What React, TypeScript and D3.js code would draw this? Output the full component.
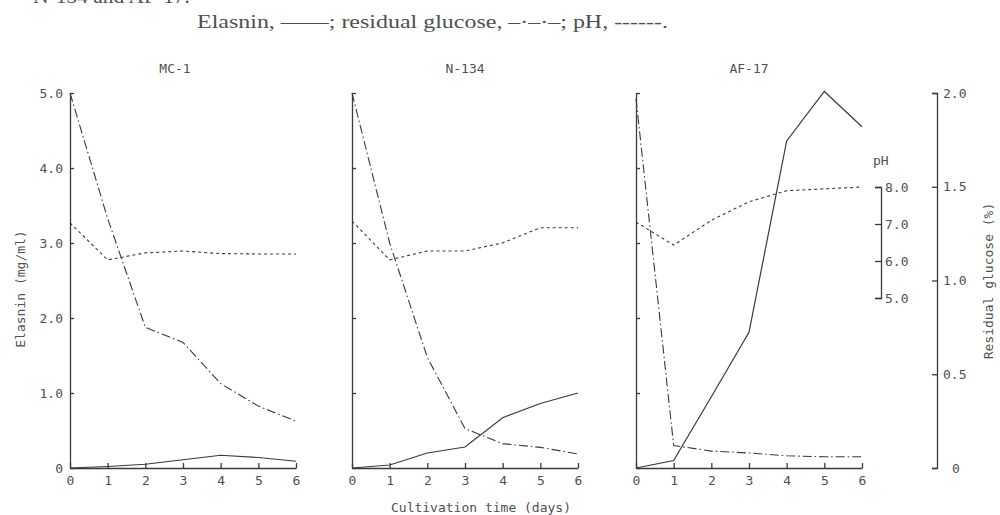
import React, { useEffect, useRef } from 'react';
import * as d3 from 'd3';

// cultivation days on the x axis
const days = [0, 1, 2, 3, 4, 5, 6];
const strains = ['MC-1', 'N-134', 'AF-17'];

// elasnin (mg/ml)
const elasninMC1 = [0, 0.02, 0.05, 0.11, 0.17, 0.14, 0.09];
const elasninN134 = [0, 0.04, 0.2, 0.28, 0.67, 0.86, 1.0];
const elasninAF17 = [0, 0.1, 0.95, 1.81, 4.36, 5.02, 4.55];

// residual glucose (%)
const glucoseMC1 = [2.0, 1.33, 0.75, 0.67, 0.45, 0.33, 0.25];
const glucoseN134 = [2.0, 1.2, 0.59, 0.21, 0.13, 0.11, 0.075];
const glucoseAF17 = [1.97, 0.12, 0.09, 0.08, 0.065, 0.06, 0.06];

// pH
const phMC1 = [7.03, 6.03, 6.22, 6.27, 6.2, 6.19, 6.19];
const phN134 = [7.08, 6.03, 6.27, 6.27, 6.49, 6.9, 6.9];
const phAF17 = [7.05, 6.43, 7.1, 7.6, 7.9, 7.95, 8.0];

const elasninTicks = [0, 1, 2, 3, 4, 5];
const glucoseTicks = [0, 0.5, 1.0, 1.5, 2.0];
const phTicks = [5, 6, 7, 8];

const caption = 'Elasnin, \u2014\u2014; residual glucose, \u2013\u00b7\u2013\u00b7\u2013; pH, ------.';
const topLine = 'N-134 and AF-17.';

const W = 1000;
const H = 515;
const MONO = '"DejaVu Sans Mono", monospace';
const INK = '#3a3a3a';
const TXT = '#505050';

export default function App() {
  const svgRef = useRef<SVGSVGElement | null>(null);

  useEffect(() => {
    const svg = d3.select(svgRef.current);
    svg.selectAll('*').remove();

    const panels = [
      { name: strains[0], x0: 70, el: elasninMC1, gl: glucoseMC1, ph: phMC1 },
      { name: strains[1], x0: 352, el: elasninN134, gl: glucoseN134, ph: phN134 },
      { name: strains[2], x0: 636, el: elasninAF17, gl: glucoseAF17, ph: phAF17 },
    ];
    const pw = 226;
    const top = 93;
    const bottom = 468;

    const y = d3.scaleLinear().domain([0, 5]).range([bottom, top]);
    const yGl = d3.scaleLinear().domain([0, 2]).range([bottom, top]);
    const yPh = d3.scaleLinear().domain([5, 8]).range([298, 187]);
    const fmt = (d: number) => (d === 0 ? '0' : d3.format('.1f')(d));

    // caption text above the panels
    svg.append('text')
      .attr('x', 33).attr('y', 3)
      .attr('font-family', '"Liberation Serif", serif').attr('font-size', 20)
      .attr('fill', TXT).attr('textLength', 157).attr('lengthAdjust', 'spacingAndGlyphs')
      .text(topLine);
    svg.append('text')
      .attr('x', 197).attr('y', 28)
      .attr('font-family', '"Liberation Serif", serif').attr('font-size', 19)
      .attr('fill', TXT).attr('textLength', 471).attr('lengthAdjust', 'spacingAndGlyphs')
      .text(caption);

    panels.forEach((p, i) => {
      const x = d3.scaleLinear().domain([0, 6]).range([p.x0, p.x0 + pw]);
      const g = svg.append('g');

      // left axis
      const ax = d3.axisLeft(y).tickValues(elasninTicks)
        .tickSizeInner(-4).tickSizeOuter(0).tickPadding(7)
        .tickFormat(i === 0 ? (d: any) => fmt(d) : () => '');
      g.append('g').attr('transform', `translate(${p.x0},0)`).call(ax);

      // bottom axis
      const bx = d3.axisBottom(x).tickValues(days)
        .tickSizeInner(-5).tickSizeOuter(0).tickPadding(8)
        .tickFormat((d: any) => String(d));
      g.append('g').attr('transform', `translate(0,${bottom})`).call(bx);

      g.append('text')
        .attr('x', p.x0 + pw / 2 + (i === 0 ? -8 : 0)).attr('y', 73)
        .attr('text-anchor', 'middle').attr('font-family', MONO).attr('font-size', 13)
        .attr('fill', TXT).text(p.name);

      const line = (sc: d3.ScaleLinear<number, number>) =>
        d3.line<number>().x((_, j) => x(days[j])).y(v => sc(v));

      g.append('path').attr('d', line(yPh)(p.ph))
        .attr('fill', 'none').attr('stroke', INK).attr('stroke-width', 1.1)
        .attr('stroke-dasharray', '3,3');
      g.append('path').attr('d', line(yGl)(p.gl))
        .attr('fill', 'none').attr('stroke', INK).attr('stroke-width', 1.1)
        .attr('stroke-dasharray', '9,3,1.5,3');
      g.append('path').attr('d', line(y)(p.el))
        .attr('fill', 'none').attr('stroke', INK).attr('stroke-width', 1.2);
    });

    // pH axis
    const phAxis = d3.axisRight(yPh).tickValues(phTicks)
      .tickSizeInner(-6).tickSizeOuter(-6).tickPadding(4)
      .tickFormat((d: any) => d3.format('.1f')(d));
    svg.append('g').attr('transform', 'translate(881,0)').call(phAxis);
    svg.append('text')
      .attr('x', 873).attr('y', 165).attr('font-family', MONO).attr('font-size', 13)
      .attr('fill', TXT).text('pH');

    // glucose axis
    const glAxis = d3.axisRight(yGl).tickValues(glucoseTicks)
      .tickSizeInner(-5).tickSizeOuter(-5).tickPadding(6)
      .tickFormat((d: any) => fmt(d));
    const gA = svg.append('g').attr('transform', 'translate(937,0)').call(glAxis);
    gA.selectAll('.tick text').attr('dx', (d: any) => (d === 0 ? 9 : 0));

    // axis labels
    svg.append('text')
      .attr('transform', 'translate(25,289) rotate(-90)')
      .attr('text-anchor', 'middle').attr('font-family', MONO).attr('font-size', 13)
      .attr('fill', TXT).text('Elasnin (mg/ml)');
    svg.append('text')
      .attr('transform', 'translate(993,281) rotate(-90)')
      .attr('text-anchor', 'middle').attr('font-family', MONO).attr('font-size', 13)
      .attr('fill', TXT).text('Residual glucose (%)');
    svg.append('text')
      .attr('x', 481).attr('y', 512)
      .attr('text-anchor', 'middle').attr('font-family', MONO).attr('font-size', 13)
      .attr('fill', TXT).text('Cultivation time (days)');

    // common styling for axes
    svg.selectAll('.domain, .tick line').attr('stroke', INK).attr('stroke-width', 1.3);
    svg.selectAll('.tick text').attr('font-family', MONO).attr('font-size', 13).attr('fill', TXT);
  }, []);

  return (
    <svg
      ref={svgRef}
      width={W}
      height={H}
      style={{ position: 'absolute', left: 0, top: 0, background: '#fff' }}
    />
  );
}
